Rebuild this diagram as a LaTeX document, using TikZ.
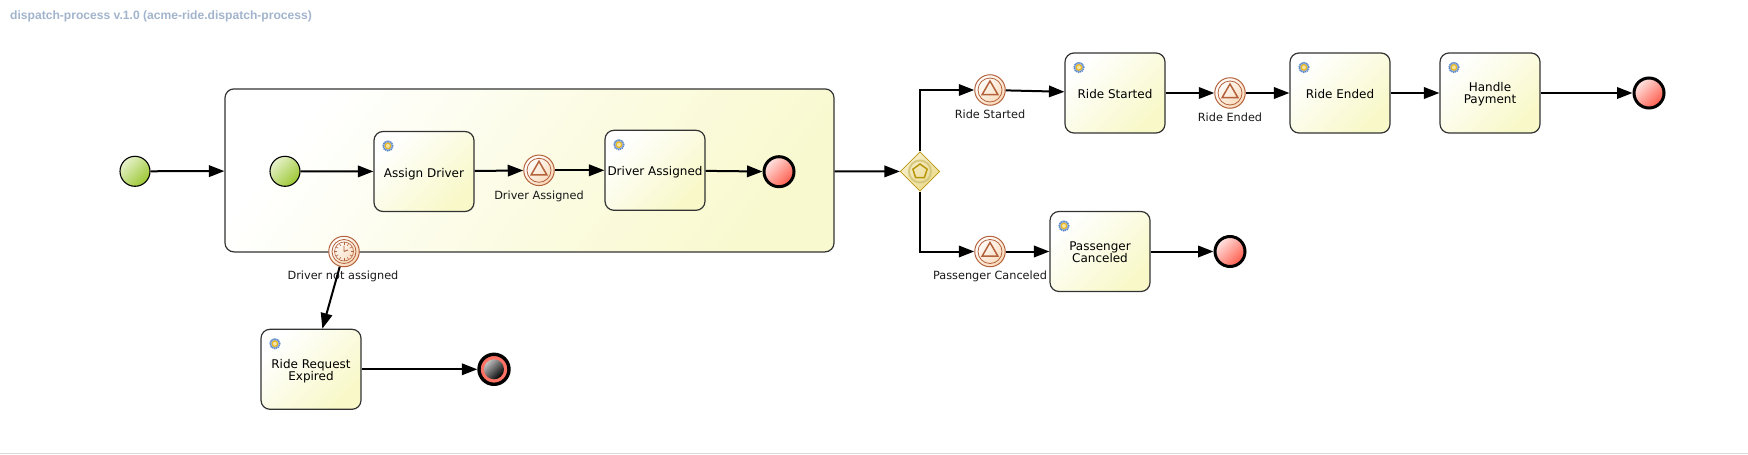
\documentclass[tikz,border=0pt]{standalone}
\usepackage{fontspec}
\setmainfont{DejaVu Sans}
\newfontfamily\titlefont{Liberation Sans}
\usetikzlibrary{arrows.meta,shapes.geometric}
\definecolor{taskyellow}{HTML}{F8F8C8}
\definecolor{subyellow}{HTML}{F9F9D0}
\definecolor{startgreen}{HTML}{9CC832}
\definecolor{endred}{HTML}{FF5A4A}
\definecolor{eventbrown}{HTML}{B4623C}
\definecolor{eventpeach}{HTML}{F8D8B8}
\definecolor{gategold}{HTML}{B8960C}
\definecolor{gateyellow}{HTML}{EAD98A}
\definecolor{gearblue}{HTML}{5A86C8}
\definecolor{gearyellow}{HTML}{E8B820}
\definecolor{titleblue}{HTML}{B0C4DE}

\begin{document}
\begin{tikzpicture}[x=1pt,y=-1pt, auto, every node/.style={inner sep=0pt},
  flow/.style={line width=2pt,-{Triangle[length=15.5pt,width=11.5pt]}},
  task node/.style={rectangle,rounded corners=9pt,draw=black!80,line width=1.2pt,minimum width=100pt,minimum height=80pt,
    top color=white,bottom color=taskyellow,shading angle=45,align=center,font=\fontsize{12}{12}\selectfont},
  sub node/.style={task node,minimum width=609pt,minimum height=163pt,bottom color=subyellow,middle color=subyellow!55,shading angle=52},
  start node/.style={circle,draw=black,line width=1.1pt,minimum size=30pt,top color=white!75!startgreen,bottom color=startgreen,shading angle=45},
  end node/.style={circle,draw=black,line width=3pt,minimum size=30pt,top color=white!85!endred,bottom color=endred,shading angle=45},
  halt node/.style={circle,draw=black,line width=3.4pt,minimum size=30pt,fill=white!15!endred},
  halt ball/.style={circle,minimum size=20pt,top color=black!25,bottom color=black,shading angle=45},
  event node/.style={circle,draw=eventbrown,line width=1pt,minimum size=30.5pt,top color=white,bottom color=eventpeach,shading angle=45},
  event ring/.style={circle,draw=eventbrown,line width=.8pt,minimum size=24pt},
  event mark/.style={regular polygon,regular polygon sides=3,draw=eventbrown,line width=1.5pt,minimum size=18pt},
  gate node/.style={diamond,draw=gategold,line width=.8pt,minimum size=39.5pt,top color=white!60!gateyellow,bottom color=gateyellow,shading angle=45},
  gate ring/.style={circle,draw=black!8!gateyellow,line width=2pt,minimum size=22pt},
  gate mark/.style={regular polygon,regular polygon sides=5,draw=gategold,line width=1.5pt,minimum size=15pt},
  gear/.style={circle,draw=gearblue,fill=gearblue!60,line width=1.4pt,dash pattern=on 1.2pt off .8pt,minimum size=10pt},
  gear hub/.style={circle,draw=gearyellow,fill=white!60!gearyellow,line width=1.2pt,minimum size=5.5pt},
  event label/.style={font=\fontsize{11.3}{12}\selectfont,text=black!90}]
  \useasboundingbox (0,0) rectangle (1748,455);

  \node[anchor=west,text=titleblue!92!black,font=\titlefont\bfseries\fontsize{12.1}{14}\selectfont] (title) at (10,16) {dispatch-process v.1.0 (acme-ride.dispatch-process)};

  % main row
  \node[start node] (start1) at (135,171.3) {};
  \node[sub node] (sub) at (529.5,170.4) {};
  \node[start node] (start2) [right of=start1, node distance=150pt] {};
  \node[task node, text height=15pt] (assign) at (424,171.5) {Assign Driver};
  \node[event node] (evassigned) at (539,170.3) {};
  \node[task node, text height=13pt] (drvassigned) [right of=evassigned, node distance=116pt] {Driver Assigned};
  \node[end node] (end1) at (779,171.7) {};
  \node[gate node] (gate) at (920,171.5) {};

  % upper row
  \node[event node] (evstarted) at (990,90) {};
  \node[task node, text height=11pt] (started) at (1115,93) {Ride Started};
  \node[event node] (evended) [right of=started, node distance=115pt] {};
  \node[task node, text height=11pt] (ended) [right of=evended, node distance=110pt] {Ride Ended};
  \node[task node, text height=23pt] (payment) [right of=ended, node distance=150pt] {Handle\\Payment};
  \node[end node] (end2) [right of=payment, node distance=159pt] {};

  % lower row
  \node[event node] (evcancel) at (990,251.5) {};
  \node[task node, text height=23pt] (canceled) [right of=evcancel, node distance=110pt] {Passenger\\Canceled};
  \node[end node] (end3) [right of=canceled, node distance=130pt] {};

  % timer branch
  \node[event label] (lbltimer) at (343,276) {Driver not assigned};
  \node[event node] (timer) at (344,251.5) {};
  \node[task node, text height=25pt] (expired) at (311,369.3) {Ride Request\\Expired};
  \node[halt node] (end4) [right of=expired, node distance=183pt] {};
  \node[halt ball] (end4 ball) at (end4) {};

  \node[event ring] (timer ring) at (timer) {};
  \node[circle,draw=eventbrown,line width=.6pt,minimum size=19pt] (timer face) at (timer) {};
  \foreach \a in {0,30,...,330}
    \draw[eventbrown,line width=.6pt] (timer) ++(\a:6.6) -- ++(\a:2.6);
  \draw[eventbrown,line width=.9pt] (timer.center) -- ++(0,-6) (timer.center) -- ++(4,-1.5);

  \foreach \e in {evassigned,evstarted,evended,evcancel} {
    \node[event ring] (\e ring) at (\e) {};
    \node[event mark] (\e mark) at (\e) {};
  }
  \node[gate ring] (gate ring) at (gate) {};
  \node[gate mark] (gate mark) at (gate) {};

  \foreach \t in {assign,drvassigned,started,ended,payment,canceled,expired} {
    \node[gear,xshift=14.5pt,yshift=-15pt] (\t gear) at (\t.north west) {};
    \node[gear hub] (\t hub) at (\t gear) {};
  }

  \node[event label] (lblassigned) at (539,196) {Driver Assigned};
  \node[event label] (lblstarted) at (990,114) {Ride Started};
  \node[event label] (lblended) at (1230,117) {Ride Ended};
  \node[event label] (lblcancel) at (990,276) {Passenger Canceled};

  \path[flow]
    (start1) edge (sub)
    (start2) edge (assign)
    (assign) edge (evassigned)
    (evassigned) edge (drvassigned)
    (drvassigned) edge (end1)
    (sub) edge (gate)
    (evstarted) edge (started)
    (started) edge (evended)
    (evended) edge (ended)
    (ended) edge (payment)
    (payment) edge (end2)
    (evcancel) edge (canceled)
    (canceled) edge (end3)
    (timer) edge (expired)
    (expired) edge (end4);
  \draw[flow] (gate.north) |- (evstarted);
  \draw[flow] (gate.south) |- (evcancel);

  \coordinate (rule left) at (0,453.3);
  \coordinate (rule right) at (1748,453.3);
  \draw[black!15,line width=1pt] (rule left) -- (rule right);
\end{tikzpicture}
\end{document}
